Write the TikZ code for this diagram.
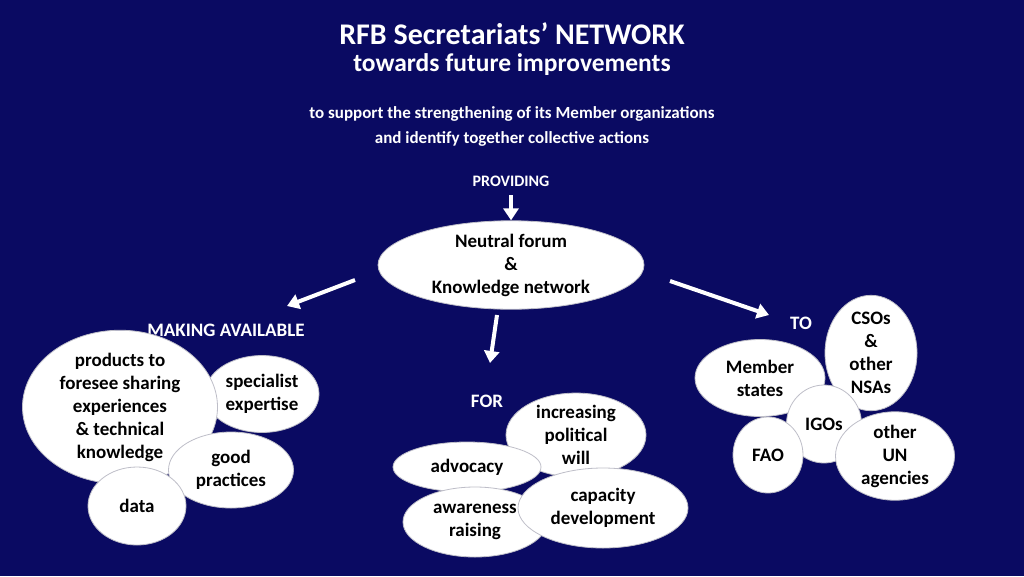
\documentclass[tikz,border=0pt]{standalone}
\usepackage{fontspec}
\setmainfont{Carlito}
\usetikzlibrary{arrows.meta, positioning, shapes.geometric}
\definecolor{navy}{RGB}{10,10,98}
\definecolor{rim}{RGB}{190,190,200}

\begin{document}
\begin{tikzpicture}[
  x=1pt, y=-1pt,
  bubble/.style={
    ellipse, draw=rim, line width=0.8pt, fill=white,
    inner sep=0pt, align=center, text=black,
    font=\bfseries\fontsize{19}{23}\selectfont
  },
  head/.style={text=white, font=\bfseries\fontsize{19}{23}\selectfont},
  note/.style={text=white, align=center, font=\bfseries\fontsize{17}{25}\selectfont},
  flow/.style={->, white, line width=4pt},
  >={Triangle[length=12pt, width=15pt]}
]

% Background
\fill[navy] (0,0) rectangle (1024,576);

% Title
\node[text=white, font=\bfseries\fontsize{30}{31}\selectfont] (title) at (512,34) {RFB Secretariats’ NETWORK};
\node[text=white, font=\bfseries\fontsize{25.5}{27}\selectfont] (subtitle) at (512,65) {towards future improvements};
\node[note] (aim) at (512,126) {to support the strengthening of its Member organizations\\and identify together collective actions};
\node[text=white, font=\bfseries\fontsize{16}{18}\selectfont] (providing) at (511,181) {PROVIDING};

% Centre
\node[bubble, minimum width=266, minimum height=86] (forum) at (511,265) {Neutral forum\\\&\\Knowledge network};

% Labels
\node[head] (making) at (226,330) {MAKING AVAILABLE};
\node[head] (for) at (487,401) {FOR};
\node[head] (to) at (801,323) {TO};

% Making available
\node[bubble, minimum width=114, minimum height=77] (expertise) at (262,394) {specialist\\expertise};
\node[bubble, minimum width=195, minimum height=129] (products) at (120,407) {products to\\foresee sharing\\experiences\\\& technical\\knowledge};
\node[bubble, minimum width=125, minimum height=76] (practices) at (231,470) {good\\practices};
\node[bubble, minimum width=98, minimum height=78] (data) at (137,506) {data};

% For
\node[bubble, minimum width=140, minimum height=70] (will) at (576,435) {increasing\\political\\will};
\node[bubble, minimum width=148, minimum height=50] (advocacy) at (467,467) {advocacy};
\node[bubble, minimum width=144, minimum height=70] (awareness) at (475,522) {awareness\\raising};
\node[bubble, minimum width=170, minimum height=80] (capacity) at (603,508) {capacity\\development};

% To
\node[bubble, minimum width=130, minimum height=77] (members) at (760,378) {Member\\states};
\node[bubble, minimum width=92, minimum height=107] (csos) at (871,353) {CSOs\\\&\\other\\NSAs};
\node[bubble, minimum width=75, minimum height=78] (igos) at (824,424) {IGOs};
\node[bubble, minimum width=70, minimum height=76] (fao) at (768,455) {FAO};
\node[bubble, minimum width=119, minimum height=78] (agencies) at (895,456) {other\\UN\\agencies};

% Edges
\coordinate (top) at (511,195);
\coordinate (leftstart) at (355,280);
\coordinate (leftend) at (287,306);
\coordinate (midstart) at (497,315);
\coordinate (midend) at (490,363);
\coordinate (rightstart) at (670,281);
\coordinate (rightend) at (769,315);

\draw[flow] (top) -- (forum);
\draw[flow] (leftstart) -- (leftend);
\draw[flow] (midstart) -- (midend);
\draw[flow] (rightstart) -- (rightend);

\end{tikzpicture}
\end{document}
